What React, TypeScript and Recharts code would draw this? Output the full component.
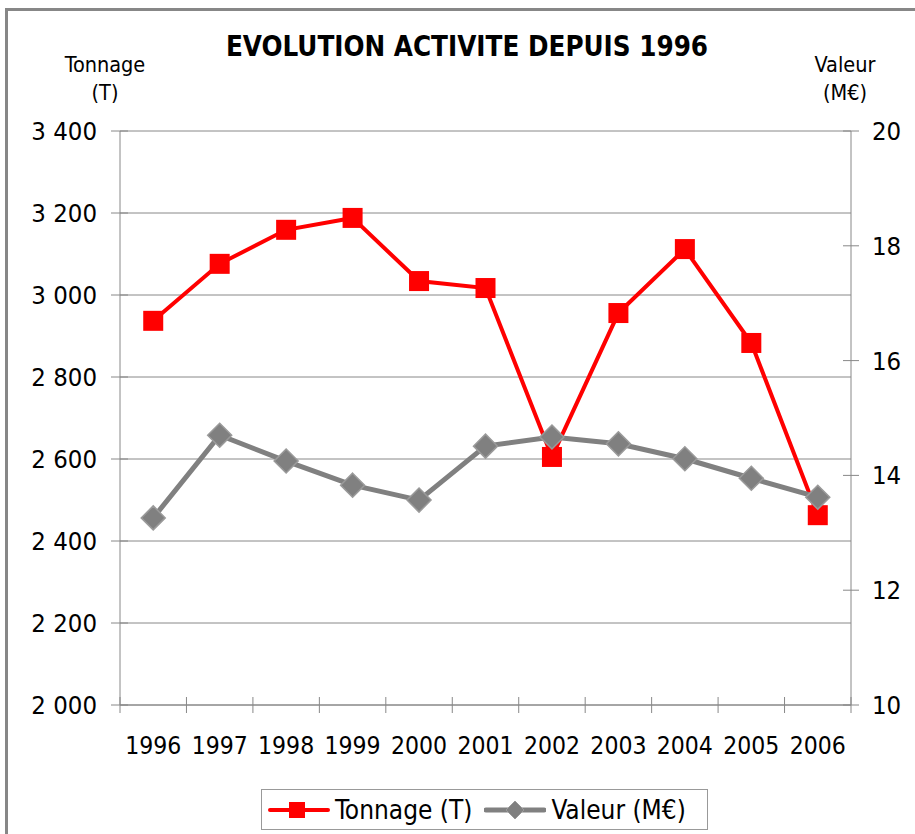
import React from "react";
import { CartesianGrid, Line, LineChart, XAxis, YAxis } from "recharts";

const years = ["1996", "1997", "1998", "1999", "2000", "2001", "2002", "2003", "2004", "2005", "2006"];
const tonnage = [2937, 3076, 3159, 3188, 3034, 3017, 2605, 2956, 3112, 2883, 2463];
const valeur = [13.26, 14.7, 14.25, 13.83, 13.57, 14.51, 14.67, 14.55, 14.29, 13.95, 13.62];
const tonnageTicks = [2000, 2200, 2400, 2600, 2800, 3000, 3200, 3400];
const valeurTicks = [10, 12, 14, 16, 18, 20];

const data = years.map((year, i) => ({ year, tonnage: tonnage[i], valeur: valeur[i] }));

const FONT = '"DejaVu Sans Condensed", "DejaVu Sans", sans-serif';
const AXIS = "#888888";

const fmtThousands = (v: number) => String(v).replace(/\B(?=(\d{3})+(?!\d))/g, " ");

function LeftTick(props: any) {
  const { x, y, payload } = props;
  return (
    <g>
      <line x1={x - 9} x2={x + 8} y1={y} y2={y} stroke={AXIS} strokeWidth={1} />
      <text x={x - 23} y={y} dy={9} textAnchor="end" fontFamily={FONT} fontSize={25.5} fill="#000">
        {fmtThousands(payload.value)}
      </text>
    </g>
  );
}

function RightTick(props: any) {
  const { x, y, payload } = props;
  return (
    <g>
      <line x1={x - 8} x2={x + 8} y1={y} y2={y} stroke={AXIS} strokeWidth={1} />
      <text x={x + 21} y={y} dy={9} textAnchor="start" fontFamily={FONT} fontSize={25.5} fill="#000">
        {payload.value}
      </text>
    </g>
  );
}

function YearTick(props: any) {
  const { x, y, payload, index } = props;
  const off = payload.offset ?? 0;
  return (
    <g>
      <line x1={x - off} x2={x - off} y1={y - 8} y2={y + 8} stroke={AXIS} strokeWidth={1} />
      {index === years.length - 1 && (
        <line x1={x + off} x2={x + off} y1={y - 8} y2={y + 8} stroke={AXIS} strokeWidth={1} />
      )}
      <text x={x} y={y + 49} textAnchor="middle" fontFamily={FONT} fontSize={24.5} fill="#000">
        {payload.value}
      </text>
    </g>
  );
}

const squareDot = (p: any) => (
  <rect key={`sq-${p.index}`} x={p.cx - 10} y={p.cy - 10} width={20} height={20} fill="#FF0000" />
);

const diamondDot = (p: any) => (
  <polygon
    key={`dm-${p.index}`}
    points={`${p.cx},${p.cy - 12} ${p.cx + 12},${p.cy} ${p.cx},${p.cy + 12} ${p.cx - 12},${p.cy}`}
    fill="#808080"
    stroke="#9a9a9a"
    strokeWidth={1.5}
  />
);

const textStyle: React.CSSProperties = {
  position: "absolute",
  fontFamily: FONT,
  color: "#000",
  transform: "translate(-50%, -50%)",
  whiteSpace: "nowrap",
  lineHeight: 1,
};

export default function App() {
  return (
    <div style={{ position: "absolute", left: 0, top: 0, width: 915, height: 834, background: "#fff", overflow: "hidden" }}>
      <div
        style={{
          position: "absolute",
          left: 5,
          top: 8,
          width: 930,
          height: 850,
          borderLeft: "3px solid #878787",
          borderTop: "3px solid #878787",
        }}
      />
      <LineChart
        width={915}
        height={834}
        data={data}
        margin={{ top: 131, left: 10, right: 10, bottom: 19 }}
        style={{ position: "absolute", left: 0, top: 0 }}
      >
        <CartesianGrid yAxisId="left" vertical={false} stroke={AXIS} strokeWidth={1} />
        <XAxis
          dataKey="year"
          scale="band"
          height={110}
          tickSize={0}
          tickMargin={0}
          tickLine={false}
          axisLine={{ stroke: AXIS }}
          tick={<YearTick />}
          interval={0}
        />
        <YAxis
          yAxisId="left"
          width={110}
          domain={[2000, 3400]}
          ticks={tonnageTicks}
          tickSize={0}
          tickMargin={0}
          tickLine={false}
          axisLine={{ stroke: AXIS }}
          tick={<LeftTick />}
        />
        <YAxis
          yAxisId="right"
          orientation="right"
          width={54}
          domain={[10, 20]}
          ticks={valeurTicks}
          tickSize={0}
          tickMargin={0}
          tickLine={false}
          axisLine={{ stroke: AXIS }}
          tick={<RightTick />}
        />
        <Line
          yAxisId="left"
          dataKey="tonnage"
          name="Tonnage (T)"
          type="linear"
          stroke="#FF0000"
          strokeWidth={4}
          dot={squareDot}
          activeDot={false}
          isAnimationActive={false}
        />
        <Line
          yAxisId="right"
          dataKey="valeur"
          name="Valeur (M€)"
          type="linear"
          stroke="#808080"
          strokeWidth={5}
          dot={diamondDot}
          activeDot={false}
          isAnimationActive={false}
        />
      </LineChart>

      <div style={{ ...textStyle, left: 467, top: 47, fontSize: 27.5, fontWeight: "bold" }}>
        EVOLUTION ACTIVITE DEPUIS 1996
      </div>
      <div style={{ ...textStyle, left: 105, top: 65, fontSize: 21.5 }}>Tonnage</div>
      <div style={{ ...textStyle, left: 105, top: 93, fontSize: 21.5 }}>(T)</div>
      <div style={{ ...textStyle, left: 845, top: 65, fontSize: 21.5 }}>Valeur</div>
      <div style={{ ...textStyle, left: 845, top: 93, fontSize: 21.5 }}>(M€)</div>

      <div
        style={{
          position: "absolute",
          left: 261,
          top: 789,
          width: 445,
          height: 39,
          border: "1px solid #999",
          display: "flex",
          alignItems: "center",
          fontFamily: FONT,
          fontSize: 26,
          color: "#000",
          whiteSpace: "nowrap",
        }}
      >
        <svg width={62} height={20} style={{ marginLeft: 6 }}>
          <line x1={2} x2={60} y1={10} y2={10} stroke="#FF0000" strokeWidth={4} strokeLinecap="round" />
          <rect x={21} y={2} width={16} height={16} fill="#FF0000" />
        </svg>
        <span style={{ marginLeft: 5 }}>Tonnage (T)</span>
        <svg width={62} height={20} style={{ marginLeft: 12 }}>
          <line x1={2} x2={60} y1={10} y2={10} stroke="#808080" strokeWidth={5} strokeLinecap="round" />
          <polygon points="31,1 40,10 31,19 22,10" fill="#808080" stroke="#9a9a9a" strokeWidth={1} />
        </svg>
        <span style={{ marginLeft: 5 }}>Valeur (M€)</span>
      </div>
    </div>
  );
}
